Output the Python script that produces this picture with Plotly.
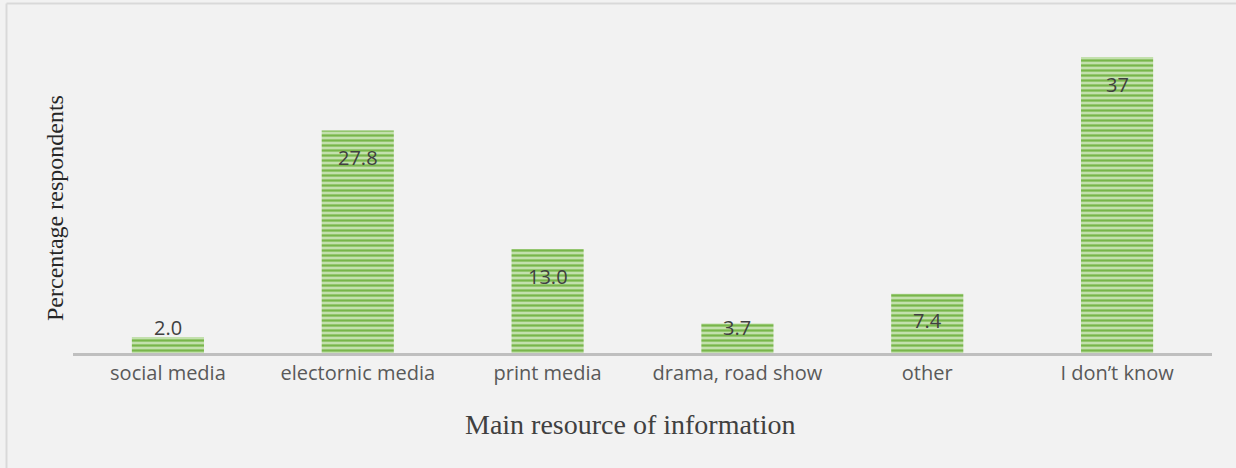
import plotly.graph_objects as go

# Survey: main source of information, share of respondents (%)
categories = ["social media", "electornic media", "print media",
              "drama, road show", "other", "I don\u2019t know"]
percentages = [2.0, 27.8, 13.0, 3.7, 7.4, 37]
value_labels = ["2.0", "27.8", "13.0", "3.7", "7.4", "37"]

x_title = "Main resource of information"
y_title = "Percentage respondents"

Y_MAX = 40.0
PLOT_TOP, PLOT_BOTTOM = 33, 115
HEIGHT = 468
WIDTH = 1236
M_LEFT, M_RIGHT = 73, 24
plot_w = WIDTH - M_LEFT - M_RIGHT
plot_h = HEIGHT - PLOT_TOP - PLOT_BOTTOM
px_per_unit = plot_h / Y_MAX


def px_x(px):
    return (px - M_LEFT) / plot_w


def px_y(py):
    return (HEIGHT - PLOT_BOTTOM - py) / plot_h


fig = go.Figure()
fig.add_trace(go.Bar(
    x=categories,
    y=percentages,
    width=0.38,
    marker=dict(
        color="#c3e0ad",
        line=dict(width=0),
        pattern=dict(shape="-", fgcolor="#78b64a", bgcolor="#c3e0ad",
                     size=5, solidity=0.45, fillmode="replace"),
    ),
    hoverinfo="x+y",
))

# value labels: ~27px below the bar top, but never lower than ~25px above the axis
annotations = []
for cat, val, lab in zip(categories, percentages, value_labels):
    h = val * px_per_unit
    drop = min(27.0, h - 25.5)
    annotations.append(dict(
        x=cat, y=val, xref="x", yref="y", text=lab, showarrow=False,
        yanchor="middle", yshift=-drop,
        font=dict(family="Open Sans", size=20, color="#404040"),
    ))

# axis titles
annotations.append(dict(
    x=px_x(630), y=px_y(424), xref="paper", yref="paper", text=x_title,
    showarrow=False, xanchor="center", yanchor="middle",
    font=dict(family="Liberation Serif", size=28, color="#404040"),
))
annotations.append(dict(
    x=px_x(55), y=px_y(208), xref="paper", yref="paper", text=y_title,
    showarrow=False, xanchor="center", yanchor="middle", textangle=-90,
    font=dict(family="Liberation Serif", size=24, color="#262626"),
))

fig.update_layout(
    width=WIDTH, height=HEIGHT,
    margin=dict(l=M_LEFT, r=M_RIGHT, t=PLOT_TOP, b=PLOT_BOTTOM),
    paper_bgcolor="#f2f2f2", plot_bgcolor="#f2f2f2",
    showlegend=False,
    annotations=annotations,
    xaxis=dict(
        showline=True, linecolor="#bfbfbf", linewidth=2.5,
        ticks="", showgrid=False, zeroline=False,
        tickfont=dict(family="Open Sans", size=20, color="#595959"),
    ),
    yaxis=dict(
        range=[0, Y_MAX], showticklabels=False, showgrid=False,
        zeroline=False, showline=False, ticks="",
    ),
)

# outer border: light grey line on the left and top edges of the page
bx = px_x(6.5)
by = px_y(3.5)
fig.add_shape(type="line", xref="paper", yref="paper",
              x0=bx, x1=bx, y0=px_y(HEIGHT), y1=by,
              line=dict(color="#d9d9d9", width=2))
fig.add_shape(type="line", xref="paper", yref="paper",
              x0=bx, x1=px_x(WIDTH), y0=by, y1=by,
              line=dict(color="#d9d9d9", width=2))

fig.write_html("out.html")
